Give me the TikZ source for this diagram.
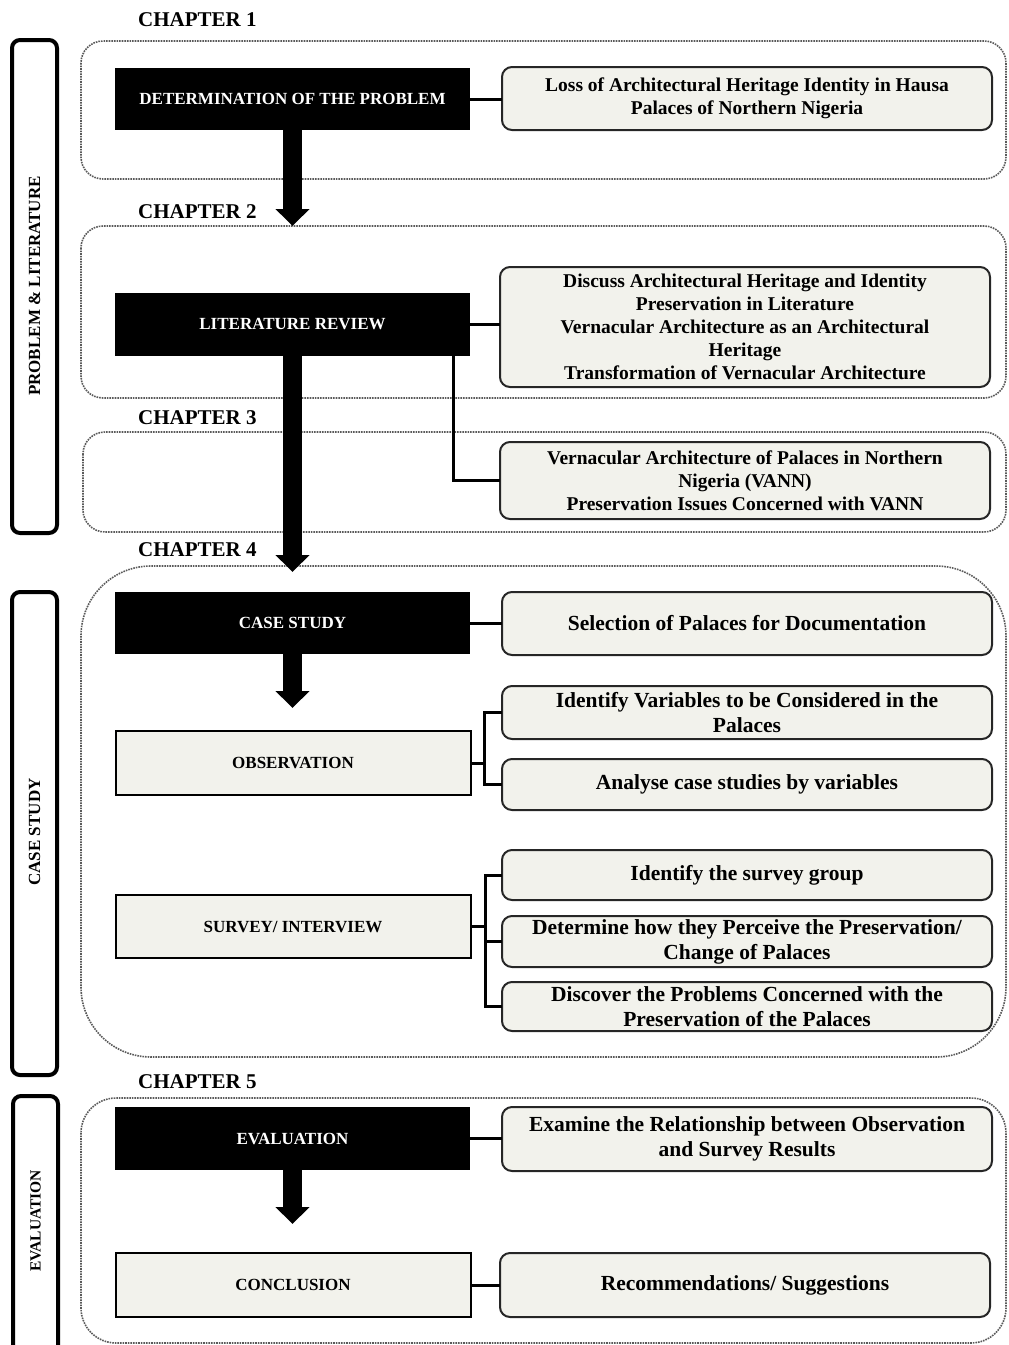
\documentclass[tikz,border=0pt]{standalone}
\usepackage{fontspec}
\setmainfont{Liberation Serif}
\usetikzlibrary{arrows.meta}
\definecolor{boxfill}{RGB}{242,242,236}
\definecolor{dotgray}{RGB}{90,90,90}
\begin{document}
\begin{tikzpicture}[x=1pt,y=-1pt,
 blk/.style={fill=black,text=white,minimum width=355pt,minimum height=62pt,inner sep=0pt,outer sep=0pt,font=\fontsize{17}{20}\selectfont\bfseries},
 lgt/.style={fill=boxfill,draw=black,line width=2pt,minimum width=355pt,minimum height=62pt,inner sep=0pt,outer sep=0pt,font=\fontsize{17}{20}\selectfont\bfseries},
 rbox/.style={fill=boxfill,draw=black!85,line width=2pt,rounded corners=10pt,minimum width=490pt,inner sep=0pt,outer sep=0pt,align=center},
 rsm/.style={rbox,font=\fontsize{19.5}{23}\selectfont\bfseries},
 rbg/.style={rbox,font=\fontsize{21.5}{25}\selectfont\bfseries},
 side/.style={draw=black,line width=4pt,rounded corners=8pt,fill=white,minimum width=45pt,inner sep=0pt},
 sidetxt/.style={rotate=90,inner sep=0pt,font=\fontsize{17}{18}\selectfont\bfseries},
 chap/.style={anchor=west,inner sep=0pt,font=\fontsize{21}{22}\selectfont\bfseries},
 cont/.style={draw=dotgray,densely dotted,line width=1.6pt},
 conn/.style={line width=3pt},
 bigarrow/.style={line width=19pt,-{Triangle[width=33pt,length=17pt]}},
]
\useasboundingbox (0,0) rectangle (1009,1345);

% chapter containers
\draw[cont,rounded corners=22pt] (81,41) rectangle (1006,179);
\draw[cont,rounded corners=22pt] (81,226) rectangle (1006,398);
\draw[cont,rounded corners=22pt] (83,432) rectangle (1006,532);
\draw[cont,rounded corners=70pt] (81,566) rectangle (1006,1057);
\draw[cont,rounded corners=35pt] (81,1098) rectangle (1006,1343);

% chapter labels
\node[chap] (c1) at (138,20) {CHAPTER 1};
\node[chap] (c2) at (138,212) {CHAPTER 2};
\node[chap] (c3) at (138,418) {CHAPTER 3};
\node[chap] (c4) at (138,550) {CHAPTER 4};
\node[chap] (c5) at (138,1082) {CHAPTER 5};

% side bars
\node[side,minimum height=493pt] (s1) at (34.5,286.5) {};
\node[side,minimum height=483pt] (s2) at (34.5,833.5) {};
\node[side,minimum height=264pt] (s3) at (35.5,1228) {};
\node[sidetxt] (t1) at (34.5,286) {PROBLEM \& LITERATURE};
\node[sidetxt] (t2) at (34.5,832) {CASE STUDY};
\node[sidetxt,font=\fontsize{15.5}{18}\selectfont\bfseries] (t3) at (35.5,1221) {EVALUATION};

% left column
\node[blk] (det) at (292.5,99) {DETERMINATION OF THE PROBLEM};
\node[blk,minimum height=63pt] (lit) at (292.5,324.5) {LITERATURE REVIEW};
\node[blk] (cs) at (292.5,623) {CASE STUDY};
\node[lgt,minimum height=64pt] (obs) at (293,763) {OBSERVATION};
\node[lgt,minimum height=63pt] (sur) at (293,926.5) {SURVEY/ INTERVIEW};
\node[blk,minimum height=63pt] (ev) at (292.5,1138.5) {EVALUATION};
\node[lgt,minimum height=64pt] (con) at (293,1285) {CONCLUSION};

% right column
\node[rsm,minimum height=63pt] (r1) at (747,98.5) {Loss of Architectural Heritage Identity in Hausa\\Palaces of Northern Nigeria};
\node[rsm,minimum height=120pt] (r2) at (745,327) {Discuss Architectural Heritage and Identity\\Preservation in Literature\\Vernacular Architecture as an Architectural\\Heritage\\Transformation of Vernacular Architecture};
\node[rsm,minimum height=77pt] (r3) at (745,480.5) {Vernacular Architecture of Palaces in Northern\\Nigeria (VANN)\\Preservation Issues Concerned with VANN};
\node[rbg,minimum height=63pt] (r4) at (747,623.5) {Selection of Palaces for Documentation};
\node[rbg,minimum height=53pt] (r5) at (747,712.5) {Identify Variables to be Considered in the\\Palaces};
\node[rbg,minimum height=51pt] (r6) at (747,784.5) {Analyse case studies by variables};
\node[rbg,minimum height=50pt] (r7) at (747,875) {Identify the survey group};
\node[rbg,minimum height=51pt] (r8) at (747,941.5) {Determine how they Perceive the Preservation/\\Change of Palaces};
\node[rbg,minimum height=49pt] (r9) at (747,1006.5) {Discover the Problems Concerned with the\\Preservation of the Palaces};
\node[rbg,minimum height=64pt] (r10) at (747,1139) {Examine the Relationship between Observation\\and Survey Results};
\node[rbg,minimum height=64pt] (r11) at (745,1285) {Recommendations/ Suggestions};

% big arrows
\coordinate (a1) at (292.5,226);
\coordinate (a2) at (292.5,572);
\coordinate (a3) at (292.5,708);
\coordinate (a4) at (292.5,1224);
\draw[bigarrow] (det.south) -- (a1);
\draw[bigarrow] (lit.south) -- (a2);
\draw[bigarrow] (cs.south) -- (a3);
\draw[bigarrow] (ev.south) -- (a4);

% connectors
\draw[conn] (det.east) -- (det.east -| r1.west);
\draw[conn] (lit.east) -- (lit.east -| r2.west);
\coordinate (lb) at (453,356);
\draw[conn] (lb) |- (r3.west);
\draw[conn] (cs.east) -- (cs.east -| r4.west);
\coordinate (ob) at (484,763);
\draw[conn] (obs.east) -- (ob);
\draw[conn] (r5.west) -| (ob) |- (r6.west);
\coordinate (sb) at (485,926.5);
\draw[conn] (sur.east) -- (sb);
\draw[conn] (r7.west) -| (sb) |- (r9.west);
\draw[conn] (sb) |- (r8.west);
\draw[conn] (ev.east) -- (ev.east -| r10.west);
\draw[conn] (con.east) -- (con.east -| r11.west);
\end{tikzpicture}
\end{document}
